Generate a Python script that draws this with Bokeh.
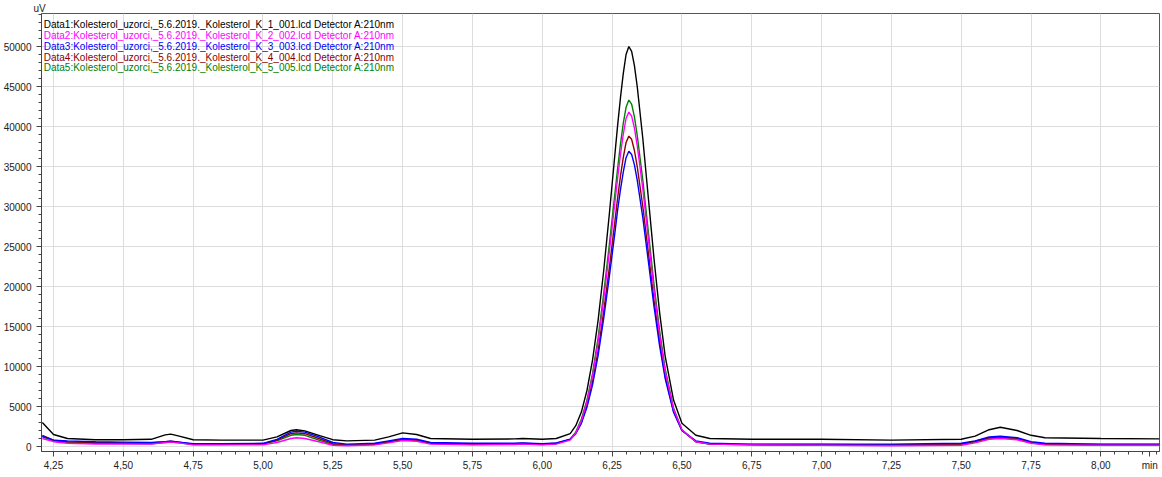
from bokeh.plotting import figure
from bokeh.models import Label, CustomJSTickFormatter, FixedTicker, Range1d
from bokeh.embed import file_html
from bokeh.resources import INLINE

# retention time (min)
t = [4.21, 4.25, 4.30, 4.40, 4.50, 4.60, 4.65, 4.67, 4.70, 4.75, 4.85, 5.00, 5.05, 5.10, 5.12,
     5.15, 5.20, 5.25, 5.30, 5.40, 5.45, 5.50, 5.55, 5.60, 5.75, 5.90, 5.93, 6.00, 6.05,
     6.10, 6.12, 6.14, 6.16, 6.18, 6.20, 6.22, 6.24, 6.26, 6.27, 6.28, 6.29, 6.30, 6.31, 6.32,
     6.33, 6.34, 6.36, 6.38, 6.40, 6.42, 6.44, 6.47, 6.50,
     6.55, 6.60, 6.75, 7.00, 7.25, 7.50, 7.55, 7.60, 7.64, 7.70, 7.75, 7.80, 8.00, 8.21]

data1 = [3000, 1500, 1000, 850, 850, 900, 1450, 1550, 1300, 850, 800, 800, 1200, 2000, 2100,
         1950, 1400, 850, 700, 800, 1200, 1700, 1500, 1000, 900, 950, 1000, 900, 1000,
         1600, 2600, 4300, 7000, 10800, 15800, 22000, 29000, 36500, 40200, 43600, 46600, 49000, 50000, 49400,
         47600, 45000, 38500, 31000, 23500, 16800, 11300, 5800, 2900,
         1400, 1000, 900, 900, 800, 900, 1300, 2100, 2400, 2000, 1400, 1100, 1000, 950]
data2 = [1000, 600, 400, 300, 300, 300, 500, 550, 450, 200, 200, 200, 500, 1000, 1100,
         1000, 600, 150, 100, 200, 450, 750, 650, 300, 200, 250, 300, 200, 300,
         800, 1700, 3200, 5600, 8800, 13100, 18400, 24300, 30500, 33600, 36500, 39000, 41000, 41800, 41300,
         39800, 37600, 32200, 25900, 19600, 14000, 9400, 4700, 2100,
         600, 300, 200, 150, 100, 150, 450, 900, 1000, 850, 400, 200, 150, 150]
data3 = [1300, 800, 700, 600, 550, 500, 600, 650, 550, 350, 350, 400, 900, 1800, 1900,
         1800, 1200, 500, 300, 400, 700, 1000, 900, 500, 400, 400, 450, 350, 450,
         900, 1600, 2900, 4900, 7700, 11400, 16000, 21200, 26700, 29600, 32100, 34300, 36100, 36900, 36500,
         35200, 33300, 28600, 23100, 17500, 12600, 8500, 4300, 2000,
         700, 400, 300, 300, 300, 400, 700, 1200, 1300, 1100, 600, 400, 300, 300]
data4 = [1400, 800, 600, 500, 450, 450, 600, 650, 550, 300, 300, 350, 800, 1600, 1700,
         1600, 1000, 350, 200, 300, 600, 850, 750, 400, 300, 350, 400, 300, 400,
         900, 1700, 3000, 5200, 8100, 12000, 16900, 22300, 28100, 31100, 33800, 36100, 38000, 38800, 38400,
         37000, 35000, 30000, 24200, 18300, 13200, 8800, 4400, 2000,
         600, 300, 250, 250, 200, 300, 650, 1100, 1200, 1000, 500, 300, 250, 250]
data5 = [1200, 700, 500, 400, 400, 350, 500, 550, 450, 250, 250, 300, 700, 1400, 1500,
         1400, 800, 250, 150, 250, 550, 900, 800, 400, 250, 300, 350, 250, 350,
         900, 1800, 3400, 5800, 9100, 13600, 19100, 25200, 31600, 34800, 37800, 40400, 42400, 43300, 42800,
         41200, 38900, 33300, 26800, 20300, 14500, 9700, 4800, 2100,
         600, 300, 200, 150, 150, 250, 600, 1000, 1100, 950, 450, 250, 200, 200]

names = ["Data1:Kolesterol_uzorci,_5.6.2019._Kolesterol_K_1_001.lcd Detector A:210nm",
         "Data2:Kolesterol_uzorci,_5.6.2019._Kolesterol_K_2_002.lcd Detector A:210nm",
         "Data3:Kolesterol_uzorci,_5.6.2019._Kolesterol_K_3_003.lcd Detector A:210nm",
         "Data4:Kolesterol_uzorci,_5.6.2019._Kolesterol_K_4_004.lcd Detector A:210nm",
         "Data5:Kolesterol_uzorci,_5.6.2019._Kolesterol_K_5_005.lcd Detector A:210nm"]
colors = ["#000000", "#ff00ff", "#0000ff", "#8b0000", "#008000"]
series = [data1, data2, data3, data4, data5]

x_ticks = [4.25 + 0.25 * i for i in range(16)]

FONT = "Liberation Sans"

p = figure(width=1154, height=469, output_backend="svg", toolbar_location=None,
           x_range=Range1d(4.207, 8.21), y_range=Range1d(-625, 54125),
           frame_width=1118, frame_height=438, title="uV",
           min_border_left=34, min_border_top=0, min_border_right=2, min_border_bottom=0)
p.title.text_font = FONT
p.title.text_font_size = "10px"
p.title.text_font_style = "normal"
p.title.text_color = "#222222"
p.title.align = "left"
p.title.offset = -8
p.title.standoff = 0
p.background_fill_color = "white"
p.outline_line_color = "#555555"

# draw back to front so black is on top
for ys, c in reversed(list(zip(series, colors))):
    p.line(t, ys, line_color=c, line_width=1.4)

# last tick carries the unit label "min"
p.xaxis.ticker = FixedTicker(ticks=x_ticks + [8.175],
                             minor_ticks=[4.20 + 0.05 * i for i in range(81)])
p.xaxis.formatter = CustomJSTickFormatter(
    code="return tick > 8.1 ? 'min' : tick.toFixed(2).replace('.', ',');")
p.xgrid.ticker = FixedTicker(ticks=x_ticks)
p.yaxis.ticker = FixedTicker(ticks=[5000 * i for i in range(11)],
                             minor_ticks=[1000 * i for i in range(0, 55)])
for ax in (p.xaxis, p.yaxis):
    ax.major_label_text_font = FONT
    ax.major_label_text_font_size = "10px"
    ax.major_label_text_color = "#222222"
    ax.axis_line_color = "#444444"
    ax.major_tick_line_color = "#444444"
    ax.minor_tick_line_color = "#444444"
    ax.major_tick_out = 5
    ax.major_tick_in = 0
    ax.minor_tick_out = 3
    ax.minor_tick_in = 0
p.xaxis.major_label_standoff = 3
p.xgrid.grid_line_color = "#dddddd"
p.ygrid.grid_line_color = "#dddddd"

leg_y = [52750, 51375, 50000, 48625, 47375]
for n, c, yy in zip(names, colors, leg_y):
    p.add_layout(Label(x=4.215, y=yy, text=n, text_font=FONT, text_font_size="10px",
                       text_color=c, text_baseline="middle"))

open("out.html", "w").write(file_html(p, INLINE))
